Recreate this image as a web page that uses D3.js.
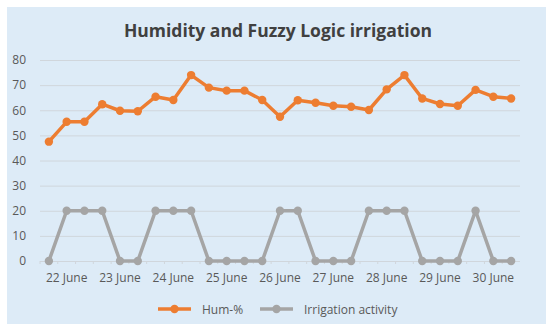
<!DOCTYPE html>
<html>
<head>
<meta charset="utf-8">
<script src="https://cdn.jsdelivr.net/npm/d3@7"></script>
<style>
  body { margin: 0; background: #ffffff; }
  svg { display: block; font-family: "Open Sans", "DejaVu Sans", sans-serif; }
</style>
</head>
<body>
<div id="chart"></div>
<script>
// Days shown on the x axis, three readings per day
const days = ["22 June", "23 June", "24 June", "25 June", "26 June", "27 June", "28 June", "29 June", "30 June"];
const readingsPerDay = 3;

// Humidity readings in percent
const humidity = [47.5, 55.4, 55.4, 62.4, 59.8, 59.6, 65.4, 64.1, 74.0,
                  69.0, 67.8, 67.8, 64.1, 57.4, 64.0, 63.0, 61.8, 61.4,
                  60.1, 68.3, 74.0, 64.7, 62.5, 61.8, 68.1, 65.4, 64.7];

// Irrigation on/off signal
const irrigation = [0, 20, 20, 20, 0, 0, 20, 20, 20,
                    0, 0, 0, 0, 20, 20, 0, 0, 0,
                    20, 20, 20, 0, 0, 0, 20, 0, 0];

const yTicks = [0, 10, 20, 30, 40, 50, 60, 70, 80];

// We build one category key for every reading
const categories = [];
days.forEach(day => {
    for (let i = 0; i < readingsPerDay; i++) categories.push(day + "|" + i);
});

const width = 550, height = 333;
const margin = { top: 60, right: 30, bottom: 72, left: 40 };
const innerWidth = width - margin.left - margin.right;
const innerHeight = height - margin.top - margin.bottom;

const svg = d3.select("#chart").append("svg")
    .attr("width", width)
    .attr("height", height);

// The light blue chart background
svg.append("rect")
    .attr("x", 7).attr("y", 7)
    .attr("width", 539).attr("height", 317)
    .attr("fill", "#ddebf7");

// Title
svg.append("text")
    .attr("x", 278).attr("y", 37)
    .attr("text-anchor", "middle")
    .attr("font-size", 17.5)
    .attr("font-weight", "bold")
    .attr("fill", "#404040")
    .text("Humidity and Fuzzy Logic irrigation");

const g = svg.append("g")
    .attr("transform", `translate(${margin.left},${margin.top})`);

const x = d3.scaleBand()
    .domain(categories)
    .range([0, innerWidth]);

const y = d3.scaleLinear()
    .domain([0, 80])
    .range([innerHeight, 0]);

// Horizontal gridlines with the y labels
const yAxis = g.append("g")
    .call(d3.axisLeft(y).tickValues(yTicks).tickSize(-innerWidth).tickPadding(14));
yAxis.select(".domain").remove();
yAxis.selectAll(".tick line").attr("stroke", "#d0d6dc").attr("stroke-width", 1);
yAxis.selectAll(".tick text")
    .attr("fill", "#595959")
    .attr("font-size", 12)
    .attr("font-family", "'Open Sans', sans-serif");

// Small ticks along the baseline
g.append("g")
    .selectAll("line")
    .data(categories)
    .enter()
    .append("line")
    .attr("x1", d => x(d)).attr("x2", d => x(d))
    .attr("y1", innerHeight).attr("y2", innerHeight + 3)
    .attr("stroke", "#d0d6dc");

// The x axis with one label for each day under its middle reading
const xAxis = g.append("g")
    .attr("transform", `translate(0,${innerHeight})`)
    .call(d3.axisBottom(x)
        .tickValues(categories.filter(c => c.endsWith("|1")))
        .tickSize(0)
        .tickPadding(12)
        .tickFormat(c => c.split("|")[0]));
xAxis.select(".domain").remove();
xAxis.selectAll(".tick text")
    .attr("fill", "#595959")
    .attr("font-size", 12)
    .attr("font-family", "'Open Sans', sans-serif");

const cx = (d, i) => x(categories[i]) + x.bandwidth() / 2;

// We draw both series, irrigation first so humidity sits on top
const series = [
    { name: "Irrigation activity", values: irrigation, color: "#a5a5a5" },
    { name: "Hum-%", values: humidity, color: "#ed7d31" }
];

series.forEach(s => {
    const line = d3.line()
        .x(cx)
        .y(d => y(d));

    g.append("path")
        .datum(s.values)
        .attr("fill", "none")
        .attr("stroke", s.color)
        .attr("stroke-width", 3.5)
        .attr("stroke-linejoin", "round")
        .attr("d", line);

    g.selectAll(null)
        .data(s.values)
        .enter()
        .append("circle")
        .attr("cx", cx)
        .attr("cy", d => y(d))
        .attr("r", 4.2)
        .attr("fill", s.color);
});

// Legend
const legendItems = [
    { name: "Hum-%", color: "#ed7d31", x: 158 },
    { name: "Irrigation activity", color: "#a5a5a5", x: 260 }
];
const legend = svg.append("g").attr("transform", "translate(0,309)");
legendItems.forEach(item => {
    legend.append("line")
        .attr("x1", item.x).attr("x2", item.x + 33)
        .attr("y1", 0).attr("y2", 0)
        .attr("stroke", item.color)
        .attr("stroke-width", 3.5);
    legend.append("circle")
        .attr("cx", item.x + 16.5).attr("cy", 0)
        .attr("r", 4.2)
        .attr("fill", item.color);
    legend.append("text")
        .attr("x", item.x + 44).attr("y", 4.5)
        .attr("font-size", 12)
        .attr("fill", "#595959")
        .text(item.name);
});
</script>
</body>
</html>
